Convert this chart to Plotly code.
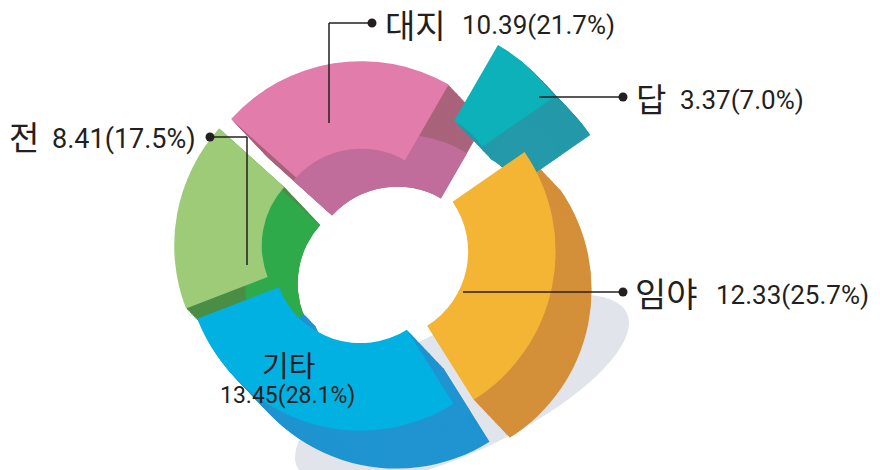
import numpy as np
import plotly.graph_objects as go

categories = ["대지", "답", "임야", "기타", "전"]
values = [10.39, 3.37, 12.33, 13.45, 8.41]
percents = ["21.7%", "7.0%", "25.7%", "28.1%", "17.5%"]
top_colors = ["#E27CAA", "#0DB1B9", "#F4B535", "#00B1E2", "#9ECB77"]
side_colors = ["#A9637A", "#2399A9", "#D48F39", "#1F94D0", "#4A8E45"]
inner_colors = ["#C06D9B", "#2399A9", "#D48F39", "#1F94D0", "#2FAA4B"]
pull_px = [12, 70, 18, 8, 14]          # explode distance of each slice, px
draw_order = [0, 1, 4, 2, 3]           # back to front

# page body has an 8px default margin: draw in reference pixels, shift by OFF
OFF = 8
W, H = 880 - OFF, 470 - OFF
R = 175                 # outer radius of the top face, px
HOLE = 0.5
ROT = -48
TOP_C = (363, 248)
DEPTH = (36, 38)        # oblique extrusion of the ring
STEPS = 26
INNER_FRAC = 0.8
CLEAR = "rgba(0,0,0,0)"


def P(x, y):
    return (x - OFF) / W, 1 - (y - OFF) / H


def dom(cx, cy, half):
    x0, y0 = P(cx - half, cy + half)
    x1, y1 = P(cx + half, cy - half)
    return dict(x=[max(0, x0), min(1, x1)], y=[max(0, y0), min(1, y1)])


total = sum(values)
cum = np.cumsum([0] + values)
mid_deg = [ROT + 360 * (cum[i] + values[i] / 2) / total for i in range(len(values))]

fig = go.Figure()


def add_slice(i, center, radius, hole, colors, hover):
    a = np.deg2rad(mid_deg[i])
    cx = center[0] + pull_px[i] * np.sin(a)
    cy = center[1] - pull_px[i] * np.cos(a)
    cols = [colors[j] if j == i else CLEAR for j in range(len(values))]
    fig.add_trace(go.Pie(labels=categories, values=values, sort=False, direction="clockwise",
                         rotation=ROT, textinfo="none", showlegend=False,
                         domain=dom(cx, cy, radius), hole=hole,
                         marker=dict(colors=cols, line=dict(width=0)),
                         hoverinfo="label+value+percent" if hover else "skip"))


# extruded sides: a sweep of shifted copies, deepest first
for i in draw_order:
    for k in range(STEPS, 0, -1):
        c = (TOP_C[0] + DEPTH[0] * k / STEPS, TOP_C[1] + DEPTH[1] * k / STEPS)
        add_slice(i, c, R, HOLE, side_colors, False)
# inner wall seen through the hole
deep_c = (TOP_C[0] + DEPTH[0], TOP_C[1] + DEPTH[1])
for i in draw_order:
    add_slice(i, deep_c, R * INNER_FRAC, HOLE / INNER_FRAC, inner_colors, False)
# top faces
for i in draw_order:
    add_slice(i, TOP_C, R, HOLE, top_colors, True)

shapes = []
# shadow ellipse
t = np.linspace(0, 2 * np.pi, 80)
ecx, ecy, ea, eb, ang = 462, 390, 182, 62, np.deg2rad(-25)
ex = ecx + ea * np.cos(t) * np.cos(ang) - eb * np.sin(t) * np.sin(ang)
ey = ecy + ea * np.cos(t) * np.sin(ang) + eb * np.sin(t) * np.cos(ang)
path = "M " + " L ".join(f"{P(a, b)[0]:.4f},{P(a, b)[1]:.4f}" for a, b in zip(ex, ey)) + " Z"
shapes.append(dict(type="path", path=path, xref="paper", yref="paper",
                   fillcolor="#E1E4EA", line=dict(width=0), layer="below"))

LC = "#231F20"
leaders = [
    [(372, 23), (329, 23), (329, 123)],
    [(623, 97), (539, 97)],
    [(623, 292), (463, 292)],
    [(210, 137), (247, 137), (247, 265)],
]
for pts in leaders:
    for (x0, y0), (x1, y1) in zip(pts[:-1], pts[1:]):
        a0, b0 = P(x0, y0)
        a1, b1 = P(x1, y1)
        shapes.append(dict(type="line", xref="paper", yref="paper", x0=a0, y0=b0, x1=a1, y1=b1,
                           line=dict(color=LC, width=1.5)))
    dx, dy = pts[0]
    a0, b0 = P(dx - 4.5, dy + 4.5)
    a1, b1 = P(dx + 4.5, dy - 4.5)
    shapes.append(dict(type="circle", xref="paper", yref="paper", x0=a0, y0=b0, x1=a1, y1=b1,
                       fillcolor=LC, line=dict(width=0)))

KFONT = "Noto Sans CJK KR"
NFONT = "Roboto, Liberation Sans, sans-serif"
annotations = []
# (x, y_center, font size, box height) in reference pixels
label_pos = {
    "대지": ((385, 24, 33, 34), (462, 25, 26, None)),
    "답": ((636, 98, 33, None), (680, 100, 26, None)),
    "임야": ((635, 292, 34, None), (716, 295, 26, None)),
    "전": ((9, 136, 33, None), (52, 139, 27, None)),
}
for i, cat in enumerate(categories):
    num = f"{values[i]:.2f}({percents[i]})"
    if cat in label_pos:
        (lx, ly, ls, lh), (nx, ny, ns, nh) = label_pos[cat]
        a, b = P(lx, ly)
        ann = dict(x=a, y=b, xref="paper", yref="paper", text=cat, showarrow=False,
                   xanchor="left", yanchor="middle", borderpad=0, borderwidth=0,
                   font=dict(family=KFONT, size=ls, color=LC))
        if lh:
            ann.update(height=lh, valign="middle")
        annotations.append(ann)
        a, b = P(nx, ny)
        annotations.append(dict(x=a, y=b, xref="paper", yref="paper", text=num, showarrow=False,
                                xanchor="left", yanchor="middle", borderpad=0, borderwidth=0,
                                font=dict(family=NFONT, size=ns, color=LC)))
    else:
        a, b = P(288, 364)
        annotations.append(dict(x=a, y=b, xref="paper", yref="paper", text=cat, showarrow=False,
                                xanchor="center", yanchor="middle", borderpad=0, borderwidth=0,
                                font=dict(family=KFONT, size=29, color=LC)))
        a, b = P(287, 395)
        annotations.append(dict(x=a, y=b, xref="paper", yref="paper", text=num, showarrow=False,
                                xanchor="center", yanchor="middle", borderpad=0, borderwidth=0,
                                font=dict(family=NFONT, size=23, color=LC)))

fig.update_layout(width=W, height=H, margin=dict(l=0, r=0, t=0, b=0),
                  paper_bgcolor="white", plot_bgcolor="white",
                  shapes=shapes, annotations=annotations)
fig.write_html("out.html")
